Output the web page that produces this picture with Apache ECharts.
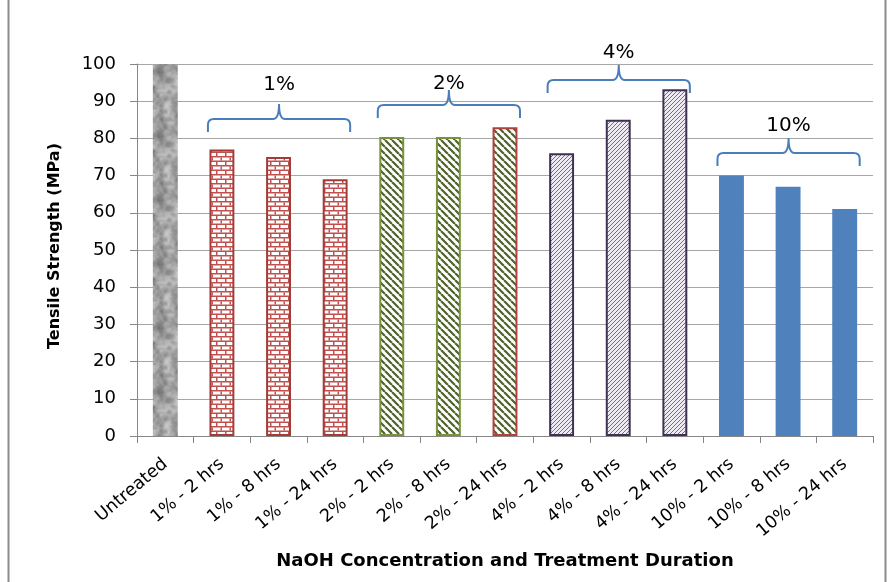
<!DOCTYPE html>
<html>
<head>
<meta charset="utf-8">
<script src="https://cdn.jsdelivr.net/npm/echarts@6/dist/echarts.min.js"></script>
<style>
  html, body { margin: 0; padding: 0; background: #ffffff; }
  #chart { width: 889px; height: 582px; }
</style>
</head>
<body>
<div id="chart"></div>
<script>
// Tensile strength of fibres after NaOH treatment
const categories = [
  'Untreated',
  '1% - 2 hrs', '1% - 8 hrs', '1% - 24 hrs',
  '2% - 2 hrs', '2% - 8 hrs', '2% - 24 hrs',
  '4% - 2 hrs', '4% - 8 hrs', '4% - 24 hrs',
  '10% - 2 hrs', '10% - 8 hrs', '10% - 24 hrs'
];
const strength = [100, 77, 75, 69, 80.4, 80.4, 83, 76, 85, 93.2, 70, 67, 61];
const yTicks = [0, 10, 20, 30, 40, 50, 60, 70, 80, 90, 100];

// Concentration groups (first/last category index) shown with braces
const groupNames = ['1%', '2%', '4%', '10%'];
const groupFirst = [1, 4, 7, 10];
const groupLast = [3, 6, 9, 12];

// Brace placement in axis units: horizontal stroke and label centre
const braceLevel = [85.2, 89, 95.7, 76.1];
const braceLabelLevel = [94.5, 94.8, 103, 83.4];

const FONT = '"DejaVu Sans", sans-serif';

// ---------- fill patterns ----------
function makeCanvas(w, h) {
  const c = document.createElement('canvas');
  c.width = w; c.height = h;
  return c;
}

// deterministic hash for the stone texture
function hash(x, y) {
  let n = x * 374761393 + y * 668265263;
  n = (n ^ (n >>> 13)) * 1274126177;
  n = n ^ (n >>> 16);
  return ((n >>> 0) % 1000) / 1000;
}
function smoothNoise(x, y, cell, size) {
  const gx = Math.floor(x / cell), gy = Math.floor(y / cell);
  const fx = (x % cell) / cell, fy = (y % cell) / cell;
  const n = size / cell;
  const s = t => t * t * (3 - 2 * t);
  const a = hash(gx % n, gy % n), b = hash((gx + 1) % n, gy % n);
  const c = hash(gx % n, (gy + 1) % n), d = hash((gx + 1) % n, (gy + 1) % n);
  const u = s(fx), v = s(fy);
  return a * (1 - u) * (1 - v) + b * u * (1 - v) + c * (1 - u) * v + d * u * v;
}
function stonePattern() {
  const size = 64;
  const c = makeCanvas(size, size);
  const ctx = c.getContext('2d');
  const img = ctx.createImageData(size, size);
  for (let y = 0; y < size; y++) {
    for (let x = 0; x < size; x++) {
      const v = 0.55 * smoothNoise(x, y, 8, size) + 0.3 * smoothNoise(x + 3, y + 5, 4, size) + 0.15 * smoothNoise(x, y, 2, size);
      const g = Math.round(95 + v * 130);
      const i = (y * size + x) * 4;
      img.data[i] = g; img.data[i + 1] = g; img.data[i + 2] = g; img.data[i + 3] = 255;
    }
  }
  ctx.putImageData(img, 0, 0);
  return c;
}
function brickPattern() {
  const c = makeCanvas(9, 9);
  const ctx = c.getContext('2d');
  ctx.fillStyle = '#ffffff';
  ctx.fillRect(0, 0, 9, 9);
  ctx.fillStyle = '#c0504d';
  ctx.fillRect(0, 3, 9, 1.5);
  ctx.fillRect(0, 7.5, 9, 1.5);
  ctx.fillRect(0, 0, 1.5, 3);
  ctx.fillRect(4.5, 4.5, 1.5, 3);
  return c;
}
function hatchPattern(size, color, width, bg, forward) {
  const c = makeCanvas(size, size);
  const ctx = c.getContext('2d');
  ctx.fillStyle = bg;
  ctx.fillRect(0, 0, size, size);
  ctx.strokeStyle = color;
  ctx.lineWidth = width;
  ctx.beginPath();
  for (let k = -1; k <= 1; k++) {
    if (forward) {
      ctx.moveTo(k * size, size); ctx.lineTo(k * size + size, 0);
    } else {
      ctx.moveTo(k * size, 0); ctx.lineTo(k * size + size, size);
    }
  }
  ctx.stroke();
  return c;
}

const stoneFill = { image: stonePattern(), repeat: 'repeat' };
const brickFill = { image: brickPattern(), repeat: 'repeat' };
const greenFill = { image: hatchPattern(7, '#4f6228', 2.2, '#ffffff', false), repeat: 'repeat' };
const purpleFill = { image: hatchPattern(4, '#6a5a80', 0.9, '#efebf3', true), repeat: 'repeat' };

function styleFor(i) {
  if (i === 0) return { color: stoneFill, borderWidth: 0 };
  if (i <= 3) return { color: brickFill, borderColor: '#a33c39', borderWidth: 2 };
  if (i <= 5) return { color: greenFill, borderColor: '#77933c', borderWidth: 2 };
  if (i === 6) return { color: greenFill, borderColor: '#b0413e', borderWidth: 2 };
  if (i <= 9) return { color: purpleFill, borderColor: '#3f3151', borderWidth: 2 };
  return { color: '#4f81bd', borderWidth: 0 };
}

// Curly brace path between xl and xr, horizontal at yH, tip at yTip
function bracePath(xl, xr, xc, yH, yEnd, yTip) {
  const r = 6;
  return [
    'M', xl, yEnd,
    'L', xl, yH + r,
    'Q', xl, yH, xl + r, yH,
    'L', xc - r, yH,
    'Q', xc, yH, xc, yTip,
    'Q', xc, yH, xc + r, yH,
    'L', xr - r, yH,
    'Q', xr, yH, xr, yH + r,
    'L', xr, yEnd
  ].join(' ');
}

const braceData = groupNames.map((name, g) => ({
  name: name,
  value: [groupFirst[g], groupLast[g], braceLevel[g], braceLabelLevel[g]]
}));

function renderBrace(params, api) {
  const p1 = api.coord([api.value(0), api.value(2)]);
  const p2 = api.coord([api.value(1), api.value(2)]);
  const pl = api.coord([api.value(0), api.value(3)]);
  const xl = p1[0] - 14, xr = p2[0] + 15, xc = (xl + xr) / 2;
  const yH = p1[1];
  return {
    type: 'group',
    children: [{
      type: 'path',
      shape: { pathData: bracePath(xl, xr, xc, yH, yH + 13, yH - 15) },
      style: { fill: 'none', stroke: '#4a7ebb', lineWidth: 2 }
    }, {
      type: 'text',
      x: xc,
      y: pl[1],
      style: {
        text: groupNames[params.dataIndex], fill: '#000000', fontFamily: FONT, fontSize: 20,
        align: 'center', verticalAlign: 'middle'
      }
    }]
  };
}

const chart = echarts.init(document.getElementById('chart'), null, { renderer: 'canvas' });

chart.setOption({
  backgroundColor: '#ffffff',
  animation: false,
  grid: { left: 137, right: 16, top: 64, bottom: 146, containLabel: false },
  graphic: [{
    type: 'rect',
    shape: { x: 8.5, y: -2, width: 877, height: 600 },
    style: { fill: 'none', stroke: '#8c8c8c', lineWidth: 2 },
    silent: true
  }],
  xAxis: {
    type: 'category',
    data: categories,
    boundaryGap: true,
    name: 'NaOH Concentration and Treatment Duration',
    nameLocation: 'middle',
    nameGap: 116,
    nameTextStyle: { fontFamily: FONT, fontWeight: 'bold', fontSize: 18, color: '#000000' },
    axisLine: { lineStyle: { color: '#868686', width: 1 } },
    axisTick: { show: true, alignWithLabel: false, length: 7, lineStyle: { color: '#868686' } },
    axisLabel: { rotate: 40, fontFamily: FONT, fontSize: 17.5, color: '#000000', margin: 26, interval: 0 }
  },
  yAxis: {
    type: 'value',
    min: 0,
    max: 100,
    interval: 10,
    name: 'Tensile Strength (MPa)',
    nameLocation: 'middle',
    nameGap: 74,
    nameRotate: 90,
    nameTextStyle: { fontFamily: FONT, fontWeight: 'bold', fontSize: 16, color: '#000000', padding: [0, 0, 0, 8] },
    axisLine: { show: true, lineStyle: { color: '#868686', width: 1 } },
    axisTick: { show: true, inside: false, length: 7, lineStyle: { color: '#868686' } },
    axisLabel: {
      fontFamily: FONT, fontSize: 18, color: '#000000', margin: 21,
      formatter: v => (yTicks.indexOf(v) >= 0 ? String(v) : '')
    },
    splitLine: { show: true, lineStyle: { color: '#a6a6a6', width: 1 } }
  },
  series: [{
    type: 'bar',
    barWidth: '44%',
    data: strength.map((v, i) => ({ value: v, itemStyle: styleFor(i) })),
    emphasis: { disabled: true }
  }, {
    type: 'custom',
    clip: false,
    silent: true,
    z: 10,
    encode: { x: [0, 1], y: [2, 3] },
    data: braceData,
    renderItem: renderBrace
  }]
});
</script>
</body>
</html>
